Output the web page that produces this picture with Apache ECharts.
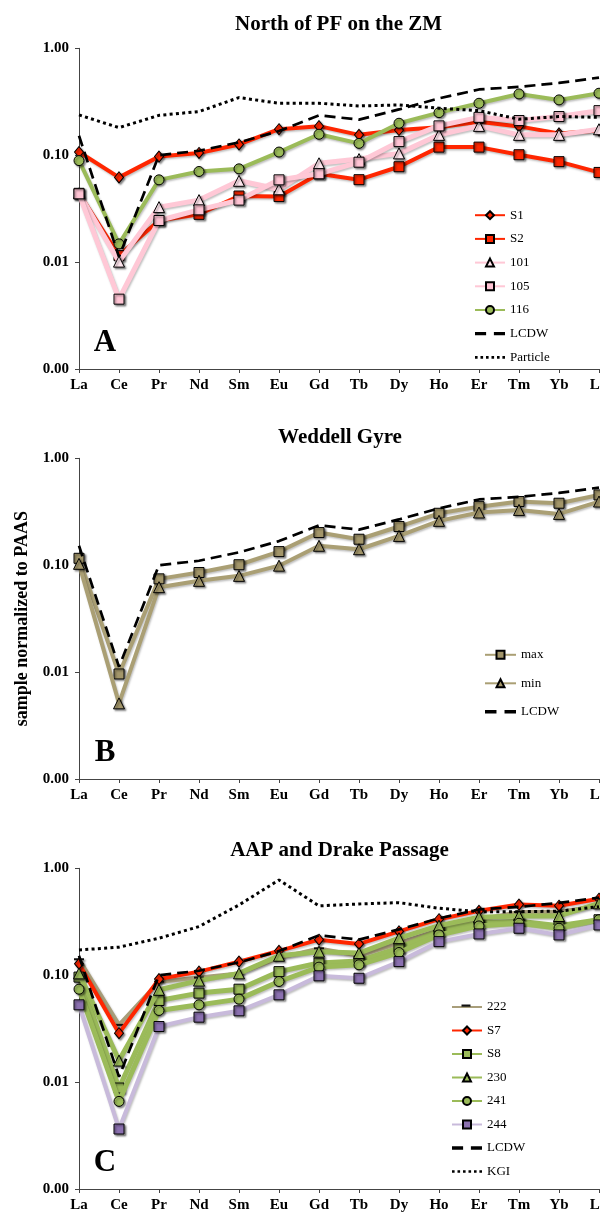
<!DOCTYPE html>
<html><head><meta charset="utf-8">
<script src="https://cdn.jsdelivr.net/npm/echarts@6/dist/echarts.min.js"></script>
<style>html,body{margin:0;padding:0;background:#fff}#c{width:600px;height:1213px}</style>
</head><body><div id="c"></div>
<script>
const categories = ['La','Ce','Pr','Nd','Sm','Eu','Gd','Tb','Dy','Ho','Er','Tm','Yb','Lu'];
const yTicks = [0.001, 0.01, 0.1, 1];

// LCDW reference (all panels)
const LCDW = [0.152, 0.0112, 0.100, 0.110, 0.132, 0.168, 0.236, 0.215, 0.268, 0.340, 0.412, 0.436, 0.474, 0.532];

// Panel A: North of PF on the ZM
const S1 = [0.107, 0.062, 0.097, 0.105, 0.126, 0.175, 0.187, 0.155, 0.172, 0.183, 0.206, 0.186, 0.160, 0.170];
const S2 = [0.044, 0.0115, 0.0245, 0.0280, 0.0415, 0.041, 0.067, 0.059, 0.078, 0.119, 0.119, 0.101, 0.087, 0.069];
const s101 = [0.044, 0.0101, 0.0327, 0.038, 0.0576, 0.048, 0.084, 0.092, 0.104, 0.155, 0.188, 0.155, 0.155, 0.175];
const s105 = [0.0435, 0.0045, 0.0245, 0.0308, 0.038, 0.0588, 0.067, 0.086, 0.134, 0.188, 0.226, 0.211, 0.230, 0.261];
const s116 = [0.089, 0.0148, 0.0588, 0.0704, 0.0745, 0.107, 0.157, 0.129, 0.199, 0.250, 0.306, 0.374, 0.329, 0.380];
const Particle = [0.238, 0.181, 0.236, 0.256, 0.346, 0.306, 0.306, 0.289, 0.295, 0.275, 0.261, 0.217, 0.230, 0.226];

// Panel B: Weddell Gyre
const maxB = [0.116, 0.0096, 0.0745, 0.0854, 0.101, 0.134, 0.202, 0.175, 0.230, 0.306, 0.353, 0.394, 0.380, 0.454];
const minB = [0.103, 0.0051, 0.0623, 0.0714, 0.0795, 0.099, 0.152, 0.141, 0.188, 0.260, 0.311, 0.329, 0.302, 0.394];

// Panel C: AAP and Drake Passage
const s222 = [0.141, 0.0343, 0.087, 0.095, 0.104, 0.145, 0.178, 0.152, 0.200, 0.265, 0.330, 0.390, 0.390, 0.450];
const S7 = [0.128, 0.0287, 0.092, 0.108, 0.134, 0.169, 0.215, 0.196, 0.257, 0.334, 0.400, 0.458, 0.447, 0.520];
const S8 = [0.096, 0.0088, 0.058, 0.068, 0.074, 0.108, 0.130, 0.136, 0.180, 0.262, 0.310, 0.320, 0.290, 0.330];
const s230 = [0.104, 0.0159, 0.073, 0.089, 0.104, 0.152, 0.166, 0.161, 0.222, 0.291, 0.348, 0.358, 0.358, 0.470];
const s241 = [0.074, 0.0066, 0.0468, 0.0528, 0.0597, 0.0873, 0.119, 0.125, 0.163, 0.238, 0.289, 0.306, 0.275, 0.330];
const s244 = [0.0528, 0.00364, 0.0331, 0.0405, 0.0464, 0.0655, 0.0986, 0.0937, 0.134, 0.206, 0.243, 0.275, 0.238, 0.295];
const KGI = [0.172, 0.183, 0.222, 0.285, 0.454, 0.778, 0.445, 0.464, 0.477, 0.423, 0.393, 0.393, 0.397, 0.438];

const FONT = '"Liberation Serif","Times New Roman",serif';
const RED = '#ff2600', PINK = '#ffc8d6', PINKF = '#ffc4d4', GREEN = '#9bbb59';
const TAN = '#aa9f74', TANF = '#a3966a', TAN2 = '#a89e7a', LAV = '#c8badb', PURP = '#8b70b0';

const tops = [48.3, 458.3, 868.3];
const H = 320.7;

const mshadow = {shadowBlur: 2, shadowColor: 'rgba(0,0,0,0.45)', shadowOffsetX: 1.5, shadowOffsetY: 1.5};
const lshadow = {shadowBlur: 2, shadowColor: 'rgba(0,0,0,0.25)', shadowOffsetX: 1, shadowOffsetY: 1.5};

let zc = 2;
function ser(name, data, gi, o) {
  const s = {
    type: 'line', name, data, xAxisIndex: gi, yAxisIndex: gi,
    animation: false, z: zc++,
    symbol: o.symbol || 'none', symbolSize: o.size || 10,
    lineStyle: Object.assign({color: o.color, width: o.width || 4, type: o.type || 'solid'}, o.dash ? {} : lshadow),
    itemStyle: Object.assign({color: o.fill || o.color, borderColor: '#000', borderWidth: o.symbol ? 1 : 0}, o.dash ? {} : mshadow),
    emphasis: {disabled: true}
  };
  if (o.keep) s.symbolKeepAspect = true;
  if (o.itemNoBorder) s.itemStyle.borderWidth = 0;
  return s;
}
const dashed = {color: '#000', width: 2.7, type: [11, 6], dash: true};
const dotted = {color: '#000', width: 3, type: [3, 3.3], dash: true};

const series = [
  ser('S1', S1, 0, {symbol: 'diamond', size: [9, 11], color: RED}),
  ser('S2', S2, 0, {symbol: 'rect', size: 10, color: RED}),
  ser('101', s101, 0, {symbol: 'triangle', size: 11, color: PINK, fill: '#ffe6ee', width: 5}),
  ser('105', s105, 0, {symbol: 'rect', size: 10, color: PINK, fill: PINKF, width: 5}),
  ser('116', s116, 0, {symbol: 'circle', size: 10, color: GREEN}),
  ser('LCDW', LCDW, 0, dashed),
  ser('Particle', Particle, 0, dotted),

  ser('max', maxB, 1, {symbol: 'rect', size: 10, color: TAN, fill: TANF}),
  ser('min', minB, 1, {symbol: 'triangle', size: 11, color: TAN, fill: TANF}),
  ser('LCDW', LCDW, 1, dashed),

  ser('222', s222, 2, {symbol: 'path://M0,0H10V2H0Z', size: 10, color: TAN2, fill: '#111', keep: true, itemNoBorder: true}),
  ser('S7', S7, 2, {symbol: 'diamond', size: [9, 11], color: RED}),
  ser('S8', S8, 2, {symbol: 'rect', size: 10, color: GREEN, width: 5}),
  ser('230', s230, 2, {symbol: 'triangle', size: 11, color: GREEN, width: 5}),
  ser('241', s241, 2, {symbol: 'circle', size: 10, color: GREEN, width: 5}),
  ser('244', s244, 2, {symbol: 'rect', size: 10, color: LAV, fill: PURP, width: 4}),
  ser('LCDW', LCDW, 2, dashed),
  ser('KGI', KGI, 2, dotted)
];

const grids = tops.map(t => ({left: 79, width: 520, top: t, height: H, outerBoundsMode: 'none', containLabel: false}));
const xAxes = tops.map((t, i) => ({
  type: 'category', data: categories, gridIndex: i, boundaryGap: false,
  axisLine: {lineStyle: {color: '#444', width: 1}},
  axisTick: {show: true, length: 4, inside: false, interval: 0, lineStyle: {color: '#444'}},
  axisLabel: {interval: 0, margin: 9, color: '#000', fontFamily: FONT, fontWeight: 'bold', fontSize: 15, hideOverlap: false},
  splitLine: {show: false}
}));
const yAxes = tops.map((t, i) => ({
  type: 'log', logBase: 10, min: yTicks[0], max: yTicks[yTicks.length - 1], gridIndex: i,
  axisLine: {show: true, lineStyle: {color: '#444', width: 1}},
  axisTick: {show: true, length: 4, inside: false, lineStyle: {color: '#444'}},
  minorTick: {show: false},
  splitLine: {show: false},
  axisLabel: {margin: 10, color: '#000', fontFamily: FONT, fontWeight: 'bold', fontSize: 15,
    formatter: v => Number(v).toFixed(2)},
  name: i === 1 ? 'sample normalized to PAAS' : '',
  nameLocation: 'middle', nameGap: 48, nameRotate: 90,
  nameTextStyle: {fontFamily: FONT, fontWeight: 'bold', fontSize: 18, color: '#000'}
}));

const DASH_ICON = 'path://M0,0H10V3H0Z M17,0H27V3H17Z';
const DOT_ICON = 'path://M0,0H2.6V2.6H0Z M5.5,0H8.1V2.6H5.5Z M11,0H13.6V2.6H11Z M16.5,0H19.1V2.6H16.5Z M22,0H24.6V2.6H22Z M27.4,0H30V2.6H27.4Z';
const dashItem = name => ({name, icon: DASH_ICON, itemStyle: {color: '#000', borderWidth: 0}});
const dotItem = name => ({name, icon: DOT_ICON, itemStyle: {color: '#000', borderWidth: 0}});

const legBase = {orient: 'vertical', itemWidth: 30, itemHeight: 10, padding: 0, selectedMode: false, symbolKeepAspect: true,
  textStyle: {fontFamily: FONT, fontSize: 13, color: '#000', lineHeight: 10}};
const legends = [
  Object.assign({}, legBase, {left: 474, top: 208.7, itemGap: 10.7,
    data: ['S1','S2','101','105','116', dashItem('LCDW'), dotItem('Particle')]}),
  Object.assign({}, legBase, {left: 484, top: 648.3, itemGap: 15.5, itemWidth: 31,
    data: ['max','min', dashItem('LCDW')]}),
  Object.assign({}, legBase, {left: 451, top: 1000.5, itemGap: 10.5, itemWidth: 30,
    data: [{name: '222', itemStyle: {color: 'rgba(0,0,0,0)', borderWidth: 0, shadowColor: 'rgba(0,0,0,0)'}},
      'S7','S8','230','241','244', dashItem('LCDW'), dotItem('KGI')]})
];

function txt(text, x, y, size) {
  return {type: 'text', x, y, z: 100, style: {text, font: 'bold ' + size + 'px ' + FONT, fill: '#000',
    align: 'center', verticalAlign: 'middle', textAlign: 'center', textVerticalAlign: 'middle'}};
}
const graphic = [
  txt('North of PF on the ZM', 338.5, 25, 21),
  txt('Weddell Gyre', 340, 437.5, 21),
  txt('AAP and Drake Passage', 339.5, 851, 21),
  txt('A', 105, 343, 31),
  txt('B', 105, 753, 31),
  txt('C', 105, 1163, 31),
  // black dash marker of the "222" legend entry
  {type: 'rect', z: 100, shape: {x: 461.5, y: 1004.5, width: 9, height: 2.2}, style: {fill: '#111'}}
];

const chart = echarts.init(document.getElementById('c'), null, {renderer: 'canvas'});
chart.setOption({
  animation: false,
  backgroundColor: '#fff',
  grid: grids, xAxis: xAxes, yAxis: yAxes,
  legend: legends, series, graphic
});
</script></body></html>
